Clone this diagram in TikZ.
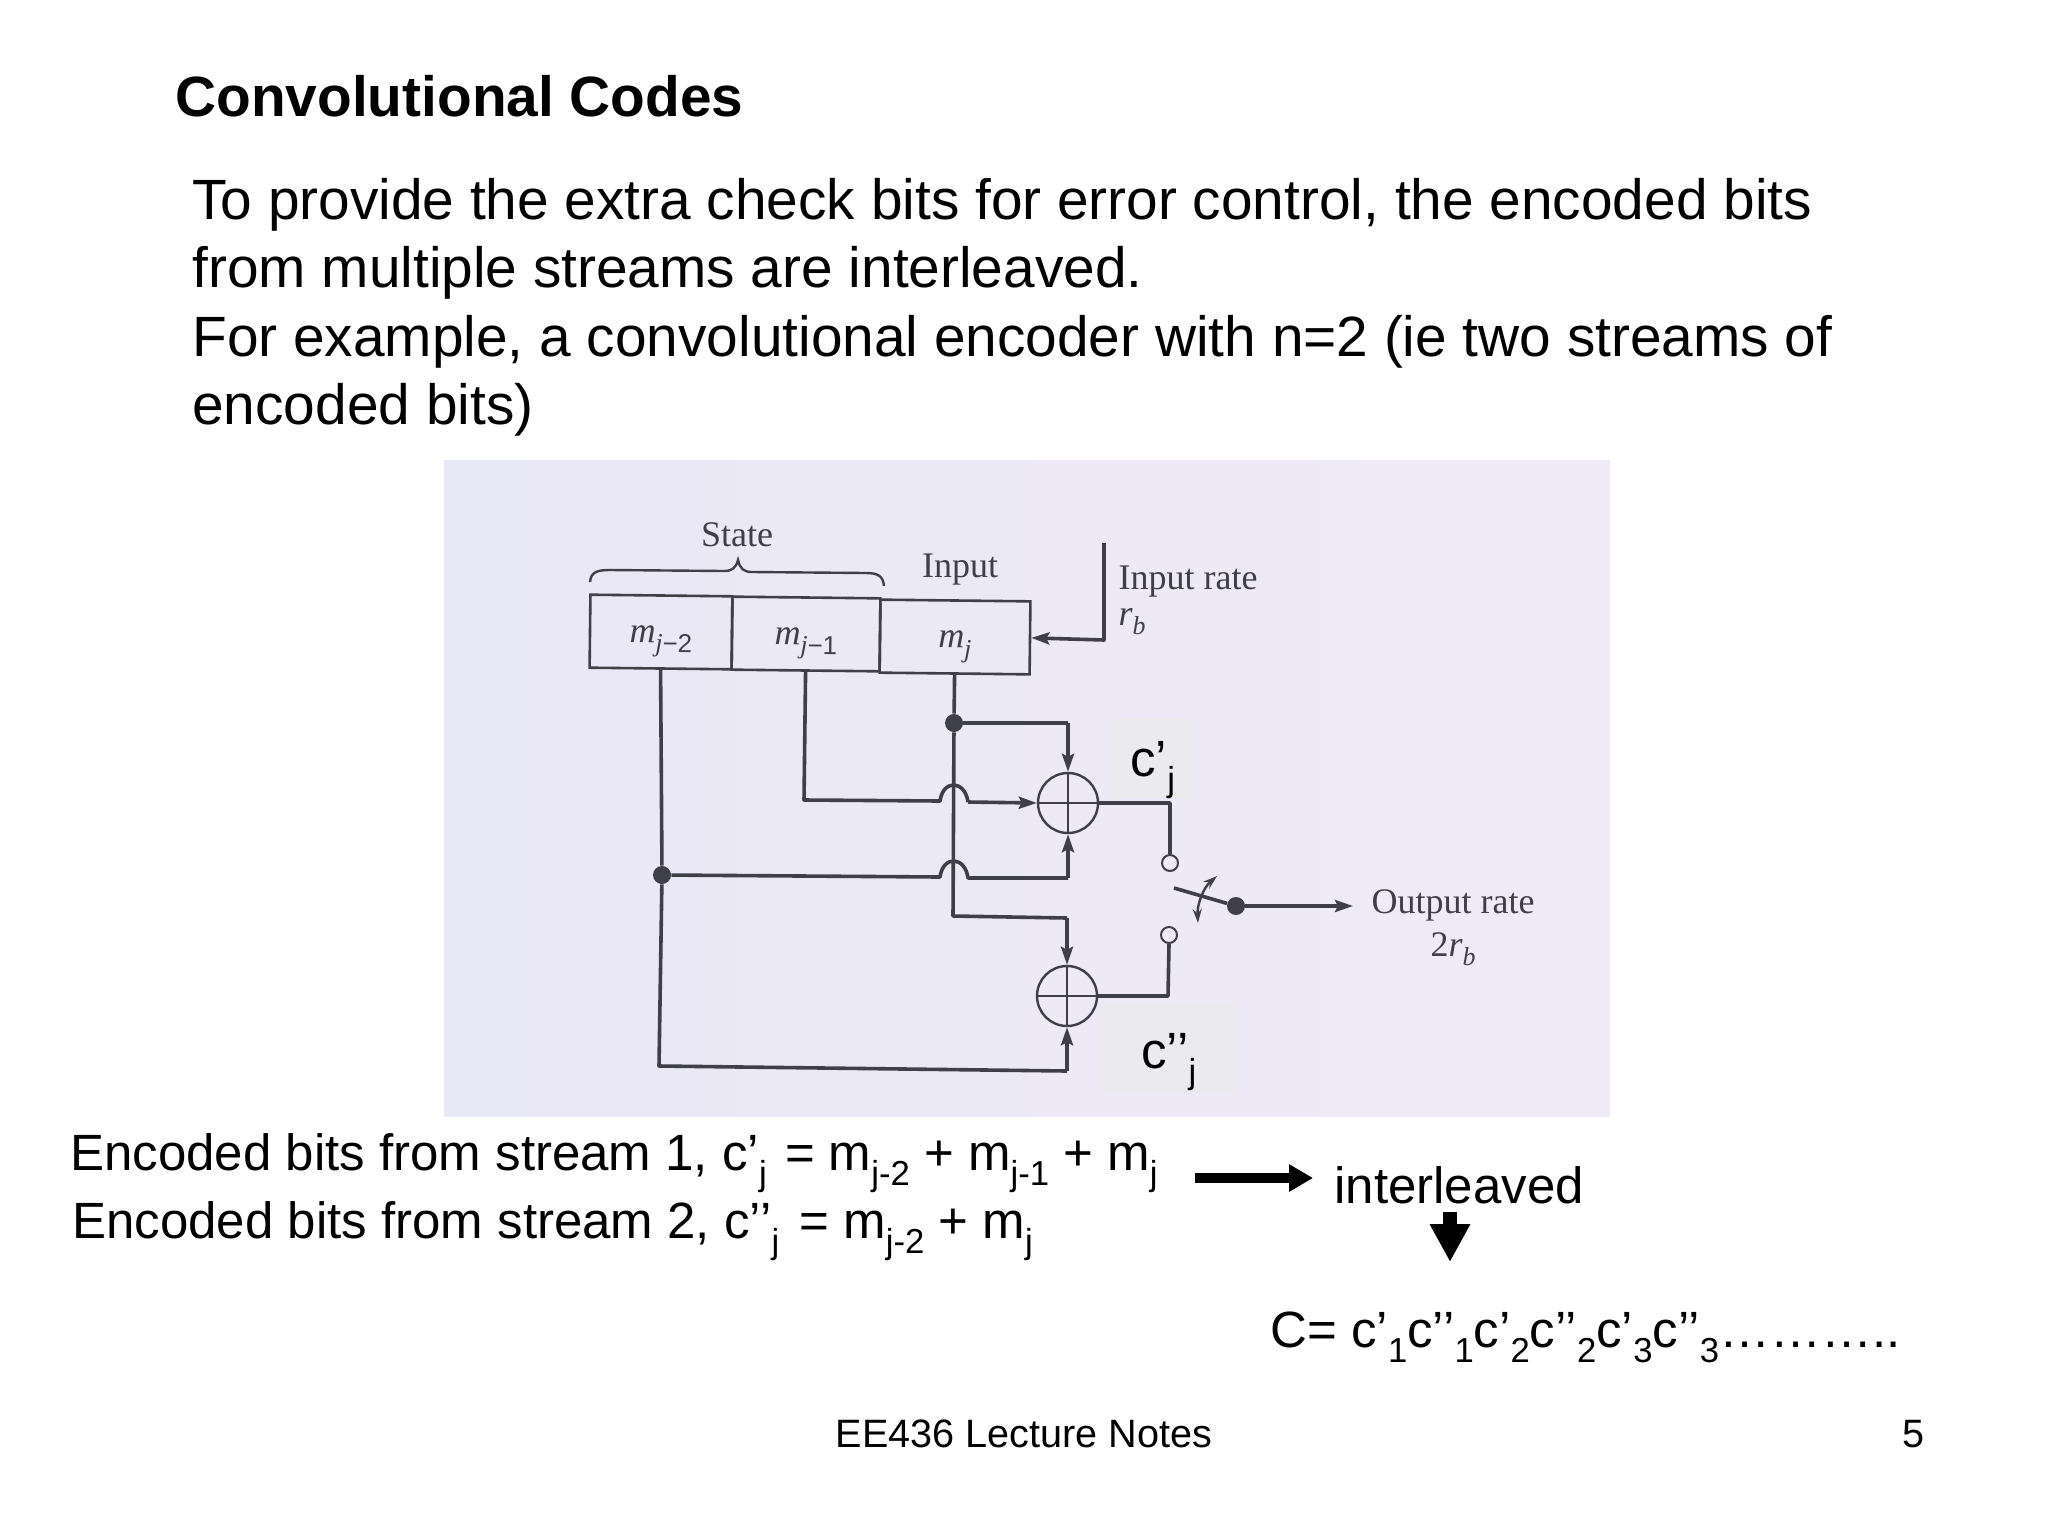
\documentclass[tikz,border=0pt]{standalone}
\usepackage{fontspec}
\setmainfont{Liberation Sans}
\newfontfamily\photofont{Liberation Serif}
\usetikzlibrary{arrows.meta}
\newcommand{\subs}[1]{\raisebox{-0.3em}{\scalebox{0.68}{#1}}}
\newcommand{\psub}[1]{\raisebox{-0.25em}{\scalebox{0.72}{#1}}}
\newcommand{\cellmark}[1]{\raisebox{-5.5pt}[0pt][0pt]{#1}}
\definecolor{ink}{HTML}{3F3F4A}
\definecolor{patch}{HTML}{EAEAEF}
\definecolor{photoL}{RGB}{233,232,246}
\definecolor{photoR}{RGB}{240,234,246}
\tikzset{
  x=0.5pt,y=-0.5pt,
  txt/.style={inner sep=0pt,anchor=base west,text=black},
  body/.style={txt,font=\fontsize{28.4}{34}\selectfont},
  eqn/.style={txt,font=\fontsize{25.5}{30}\selectfont},
  foot/.style={inner sep=0pt,anchor=base,font=\fontsize{19.8}{24}\selectfont},
  photolab/.style={inner sep=0pt,text=ink,font=\photofont\fontsize{18}{20}\selectfont},
  cell/.style={draw=ink,line width=1.3pt,minimum height=36.5pt,inner sep=0pt,rotate=-0.65,text=ink,font=\photofont\fontsize{18}{20}\selectfont},
  wire/.style={draw=ink,line width=1.8pt,line join=round},
  thin wire/.style={draw=ink,line width=1.2pt},
  arr/.style={wire,-{Stealth[length=9pt,width=6pt,inset=1.5pt]}},
  adder/.style={circle,draw=ink,line width=1.2pt,minimum size=30pt,inner sep=0pt},
  open/.style={circle,draw=ink,line width=1pt,fill=photoR,minimum size=8pt,inner sep=0pt},
  dot/.style={circle,fill=ink,minimum size=9pt,inner sep=0pt},
  patchbox/.style={fill=patch,inner sep=0pt}
}
\begin{document}
\begin{tikzpicture}
\useasboundingbox (0,0) rectangle (2048,1536);
\fill[white] (0,0) rectangle (2048,1536);
% photo
\shade[left color=photoL,right color=photoR] (444,460) rectangle (1610,1116);
% text
\node[txt,font=\bfseries\fontsize{28.4}{32}\selectfont] (title) at (175,117) {Convolutional Codes};
\node[body] (l1) at (192,219) {To provide the extra check bits for error control, the encoded bits};
\node[body] (l2) at (192,287) {from multiple streams are interleaved.};
\node[body] (l3) at (192,356) {For example, a convolutional encoder with n=2 (ie two streams of};
\node[body] (l4) at (192,424) {encoded bits)};
% patches
\node[patchbox,minimum width=43pt,minimum height=40pt] (p1) at (1152,758) {};
\node[patchbox,minimum width=69pt,minimum height=45pt] (p2) at (1169,1048) {};
% register
\node[cell,minimum width=71pt] (m2) at (661,632) {\cellmark{{\itshape m}\psub{\itshape j\normalfont−2}}};
\node[cell,minimum width=74pt] (m1) at (806,634) {\cellmark{{\itshape m}\psub{\itshape j\normalfont−1}}};
\node[cell,minimum width=75pt] (m0) at (955,637) {\cellmark{{\itshape m}\psub{\itshape j}}};
% photo labels
\node[photolab] (state) at (737,535) {State};
\node[photolab] (inp) at (960,570) {Input};
\node[photolab] (irate) at (1188,582) {Input rate};
\node[photolab] (rb) at (1132,622) {{\itshape r}\psub{\itshape b}};
\node[photolab,align=center] (orate) at (1453,905) {Output rate};
\node[photolab] (tworb) at (1453,949) {2{\itshape r}\psub{\itshape b}};
% brace
\coordinate (brL) at (590,582);
\coordinate (brR) at (884,586);
\coordinate (brT) at (738,560);
\draw[thin wire] (brL) .. controls (591,572) and (597,570) .. (610,570) -- (724,571)
  .. controls (732,571) and (736,568) .. (brT) .. controls (740,569) and (744,572) .. (752,572)
  -- (866,573) .. controls (878,573) and (883,576) .. (brR);
% adders
\node[adder] (a1) at (1068,803) {};
\node[adder] (a2) at (1067,996) {};
\draw[thin wire] (a1.north) -- (a1.south) (a1.west) -- (a1.east);
\draw[thin wire] (a2.north) -- (a2.south) (a2.west) -- (a2.east);
% junctions
\node[dot] (dj) at (954,723) {};
\node[dot] (dm) at (662,875) {};
\node[dot] (ds) at (1236,906) {};
\node[open] (o1) at (1170,863) {};
\node[open] (o2) at (1169,935) {};
% input
\coordinate (inT) at (1104,543);
\coordinate (inB) at (1104,640);
\draw[arr] (inT) -- (inB) -- (m0.east);
% m_j wire
\coordinate (k1) at (953,916);
\coordinate (k2) at (1067,918);
\draw[wire] (m0.south) -- (dj) -- (k1) -- (k2);
\draw[arr] (k2) -- (a2.north);
\coordinate (k3) at (1068,723);
\draw[wire] (dj) -- (k3);
\draw[arr] (k3) -- (a1.north);
% m_{j-1}
\coordinate (k4) at (804,800);
\coordinate (b1) at (940,801);
\coordinate (b2) at (968,802);
\draw[wire] (m1.south) -- (k4) -- (b1) .. controls +(3,-22) and +(-3,-22) .. (b2);
\draw[arr] (b2) -- (a1.west);
% m_{j-2}
\coordinate (k5) at (659,1066);
\coordinate (k6) at (1067,1071);
\coordinate (b3) at (940,877);
\coordinate (b4) at (968,878);
\coordinate (k7) at (1068,878);
\draw[wire] (m2.south) -- (dm) -- (k5) -- (k6);
\draw[arr] (k6) -- (a2.south);
\draw[wire] (dm) -- (b3) .. controls +(3,-22) and +(-3,-22) .. (b4) -- (k7);
\draw[arr] (k7) -- (a1.south);
% outputs
\coordinate (q1) at (1170,803);
\coordinate (q2) at (1168,996);
\draw[wire] (a1.east) -- (q1) -- (o1.north);
\draw[wire] (a2.east) -- (q2) -- (o2.south);
% switch
\coordinate (sw) at (1174,888);
\coordinate (swT) at (1217,876);
\coordinate (swB) at (1198,923);
\coordinate (oe) at (1353,906);
\draw[wire] (sw) -- (ds);
\draw[arr] (ds) -- (oe);
\draw[thin wire,{Stealth[length=7pt,width=4.5pt]}-{Stealth[length=7pt,width=4.5pt]}] (swT) .. controls (1203,888) and (1197,905) .. (swB);
% c labels
\node[txt,font=\fontsize{25.5}{30}\selectfont] (c1) at (1130,776) {c’\subs{j}};
\node[txt,font=\fontsize{25.5}{30}\selectfont] (c2) at (1141,1068) {c’’\subs{j}};
% equations
\node[eqn] (e1) at (70,1170) {Encoded bits from stream 1, c’\subs{j}\hspace{2pt} = m\subs{j-2} + m\subs{j-1} + m\subs{j}};
\node[eqn] (e2) at (72,1238) {Encoded bits from stream 2, c’’\subs{j}\hspace{3pt} = m\subs{j-2} + m\subs{j}};
\node[eqn] (il) at (1334,1203) {interleaved};
\node[eqn] (cc) at (1270,1347) {C= c’\subs{1}c’’\subs{1}c’\subs{2}c’’\subs{2}c’\subs{3}c’’\subs{3}………..};
% thick arrows
\coordinate (ta) at (1195,1178);
\coordinate (tb) at (1313,1178);
\draw[line width=5pt,-{Triangle[length=12pt,width=13pt,inset=0pt]}] (ta) -- (tb);
\coordinate (tc) at (1450,1212);
\coordinate (td) at (1450,1262);
\draw[line width=7pt,-{Triangle[length=19pt,width=19pt,inset=0pt]}] (tc) -- (td);
% footer
\node[foot] (ft) at (1024,1447) {EE436 Lecture Notes};
\node[foot,anchor=base east] (pg) at (1925,1447) {5};
\end{tikzpicture}
\end{document}
